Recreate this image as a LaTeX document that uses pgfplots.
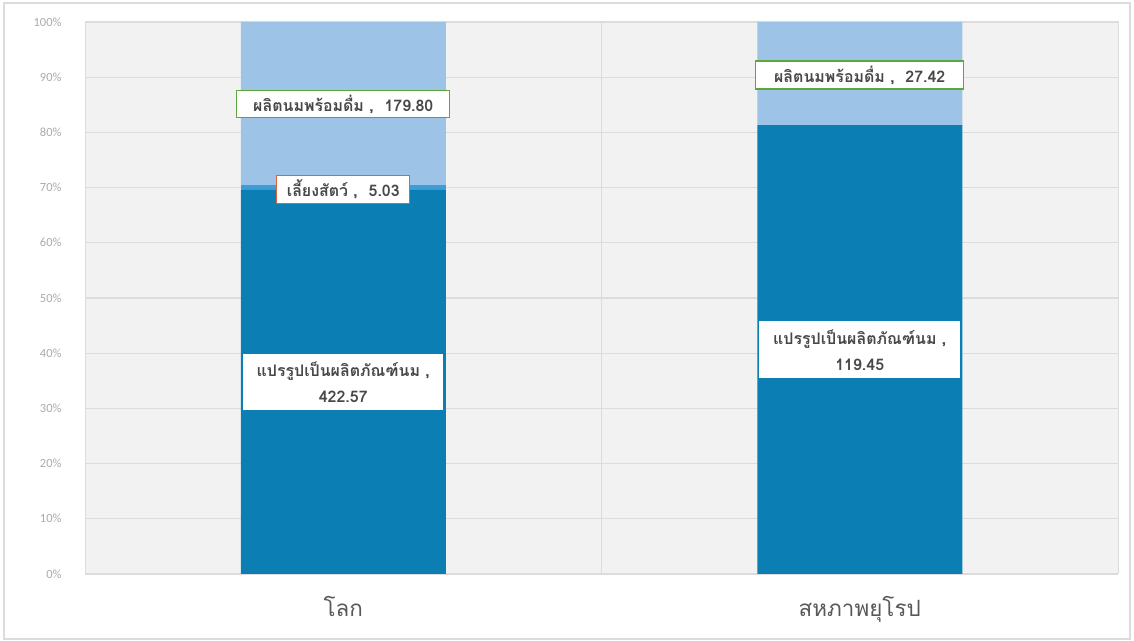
\documentclass[border=0pt]{standalone}
\usepackage{pgfplots}
\usepackage{pgfplotstable}
\pgfplotsset{compat=1.18}
\usepackage{fontspec}
\setmainfont{Carlito}
\newfontfamily\thaifont[Script=Thai]{Loma}
\definecolor{darkb}{HTML}{0B7FB3}
\definecolor{midb}{HTML}{3C9DD8}
\definecolor{lightb}{HTML}{9DC3E6}
\definecolor{plotbg}{HTML}{F2F2F2}
\definecolor{gridc}{HTML}{DCDCDC}
\definecolor{tickc}{HTML}{ABABAB}
\definecolor{catc}{HTML}{595959}
\definecolor{txtc}{HTML}{484848}
\definecolor{grn}{HTML}{5AA83C}
\definecolor{red}{HTML}{E0603E}

\pgfplotstableread{
x proc feed drink
0 422.57 5.03 179.80
1 119.45 0 27.42
}\data

\begin{document}
\begin{tikzpicture}[x=1bp,y=1bp]
\fill[white] (0,0) rectangle (1134,641);
\draw[gridc, line width=1.2bp] (4,2) rectangle (1130,638);
\begin{axis}[
  at={(85bp,67bp)}, anchor=south west,
  width=1033bp, height=552bp, scale only axis,
  xmin=-0.5, xmax=1.5, ymin=0, ymax=100,
  ybar stacked, bar width=205bp,
  axis background/.style={fill=plotbg},
  axis line style={gridc, line width=1bp},
  xtick={0,1},
  xticklabels={โลก, สหภาพยุโรป},
  xticklabel style={font=\thaifont\fontsize{22.5}{26}\selectfont, text=catc, yshift=-19bp},
  extra x ticks={0.5}, extra x tick labels={},
  extra x tick style={grid=major, major grid style={gridc, line width=1.2bp}},
  ytick={0,10,...,100},
  yticklabel={\pgfmathprintnumber{\tick}\%},
  yticklabel style={font=\fontsize{12.5}{14}\selectfont, text=tickc, xshift=-20bp},
  /pgf/number format/assume math mode=true,
  ymajorgrids, major grid style={gridc, line width=1.2bp},
  major tick length=0pt,
  clip=false,
]
\addplot[fill=darkb, draw=none] table[x=x, y expr={\thisrow{proc}/(\thisrow{proc}+\thisrow{feed}+\thisrow{drink})*100}]{\data};
\addplot[fill=midb, draw=none] table[x=x, y expr={\thisrow{feed}/(\thisrow{proc}+\thisrow{feed}+\thisrow{drink})*100}]{\data};
\addplot[fill=lightb, draw=none] table[x=x, y expr={\thisrow{drink}/(\thisrow{proc}+\thisrow{feed}+\thisrow{drink})*100}]{\data};

\coordinate (L1) at (axis cs:0,85.1);
\coordinate (L2) at (axis cs:0,69.7);
\coordinate (L3) at (axis cs:0,34.8);
\coordinate (L4) at (axis cs:1,90.4);
\coordinate (L5) at (axis cs:1,40.6);
\end{axis}
\tikzset{lab/.style={fill=white, text=txtc, line width=1.2bp, inner sep=0pt,
  font=\thaifont\bfseries\fontsize{16}{26}\selectfont, align=center}}
\node[lab, draw=grn, minimum width=213bp, minimum height=27bp] at (L1) {ผลิตนมพร้อมดื่ม ,\ \ 179.80};
\node[lab, draw=red, minimum width=133bp, minimum height=28bp] at (L2) {เลี้ยงสัตว์ ,\ \ 5.03};
\node[lab, draw=white, minimum width=199bp, minimum height=55bp] at (L3) {แปรรูปเป็นผลิตภัณฑ์นม ,\\422.57};
\node[lab, draw=grn, minimum width=208bp, minimum height=28bp] at (L4) {ผลิตนมพร้อมดื่ม ,\ \ 27.42};
\node[lab, draw=white, minimum width=200bp, minimum height=56bp] at (L5) {แปรรูปเป็นผลิตภัณฑ์นม ,\\119.45};
\end{tikzpicture}
\end{document}
